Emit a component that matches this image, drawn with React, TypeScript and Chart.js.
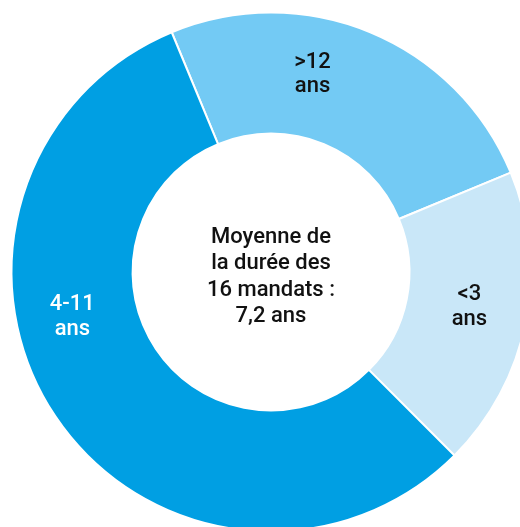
import React, { useEffect, useRef } from "react";
import { Chart, registerables } from "chart.js";

Chart.register(...registerables);

const categories = [">12 ans", "<3 ans", "4-11 ans"];
const labelLines = [[">12", "ans"], ["<3", "ans"], ["4-11", "ans"]];
const mandats = [4, 3, 9];
const centerLines = ["Moyenne de", "la durée des", "16 mandats :", "7,2 ans"];

const colors = ["#73CAF4", "#C9E7F8", "#009FE3"];
const textColors = ["#111111", "#111111", "#FFFFFF"];
const labelPolar = [
  { angle: 11.7, r: 205 },
  { angle: 99.2, r: 201 },
  { angle: 258.1, r: 203 },
];
const FONT = "500 22px Roboto, 'DejaVu Sans', sans-serif";

const labelPlugin = {
  id: "labelPlugin",
  afterDraw(chart: any) {
    const ctx = chart.ctx;
    const meta = chart.getDatasetMeta(0);
    const arc0 = meta.data[0];
    if (!arc0) return;
    const cx = arc0.x;
    const cy = arc0.y;
    ctx.save();
    ctx.font = FONT;
    ctx.textAlign = "center";
    ctx.textBaseline = "middle";
    labelLines.forEach((lines, i) => {
      const p = labelPolar[i];
      const a = (p.angle * Math.PI) / 180;
      const x = cx + p.r * Math.sin(a);
      const y = cy - p.r * Math.cos(a) + 3;
      ctx.fillStyle = textColors[i];
      const lh = 24.5;
      lines.forEach((t, j) => {
        ctx.fillText(t, x, y + (j - (lines.length - 1) / 2) * lh);
      });
    });
    ctx.fillStyle = "#111111";
    const lh = 26.4;
    centerLines.forEach((t, j) => {
      ctx.fillText(t, cx, cy + 5 + (j - (centerLines.length - 1) / 2) * lh);
    });
    ctx.restore();
  },
};

export default function App() {
  const ref = useRef<HTMLCanvasElement | null>(null);
  useEffect(() => {
    document.body.style.overflow = "hidden";
    document.documentElement.style.overflow = "hidden";
    if (!ref.current) return;
    const chart = new Chart(ref.current, {
      type: "doughnut",
      data: {
        labels: categories,
        datasets: [
          {
            data: mandats,
            backgroundColor: colors,
            borderColor: "#FFFFFF",
            borderWidth: 2,
          },
        ],
      },
      options: {
        animation: false,
        responsive: false,
        rotation: -22.5,
        radius: 259.5,
        cutout: 143.5,
        layout: { padding: 0 },
        plugins: {
          legend: { display: false },
          tooltip: { enabled: false },
        },
      },
      plugins: [labelPlugin],
    });
    return () => chart.destroy();
  }, []);
  return (
    <div style={{ position: "fixed", left: 1, top: 2, width: 540, height: 540 }}>
      <canvas ref={ref} width={540} height={540} style={{ width: 540, height: 540 }} />
    </div>
  );
}
